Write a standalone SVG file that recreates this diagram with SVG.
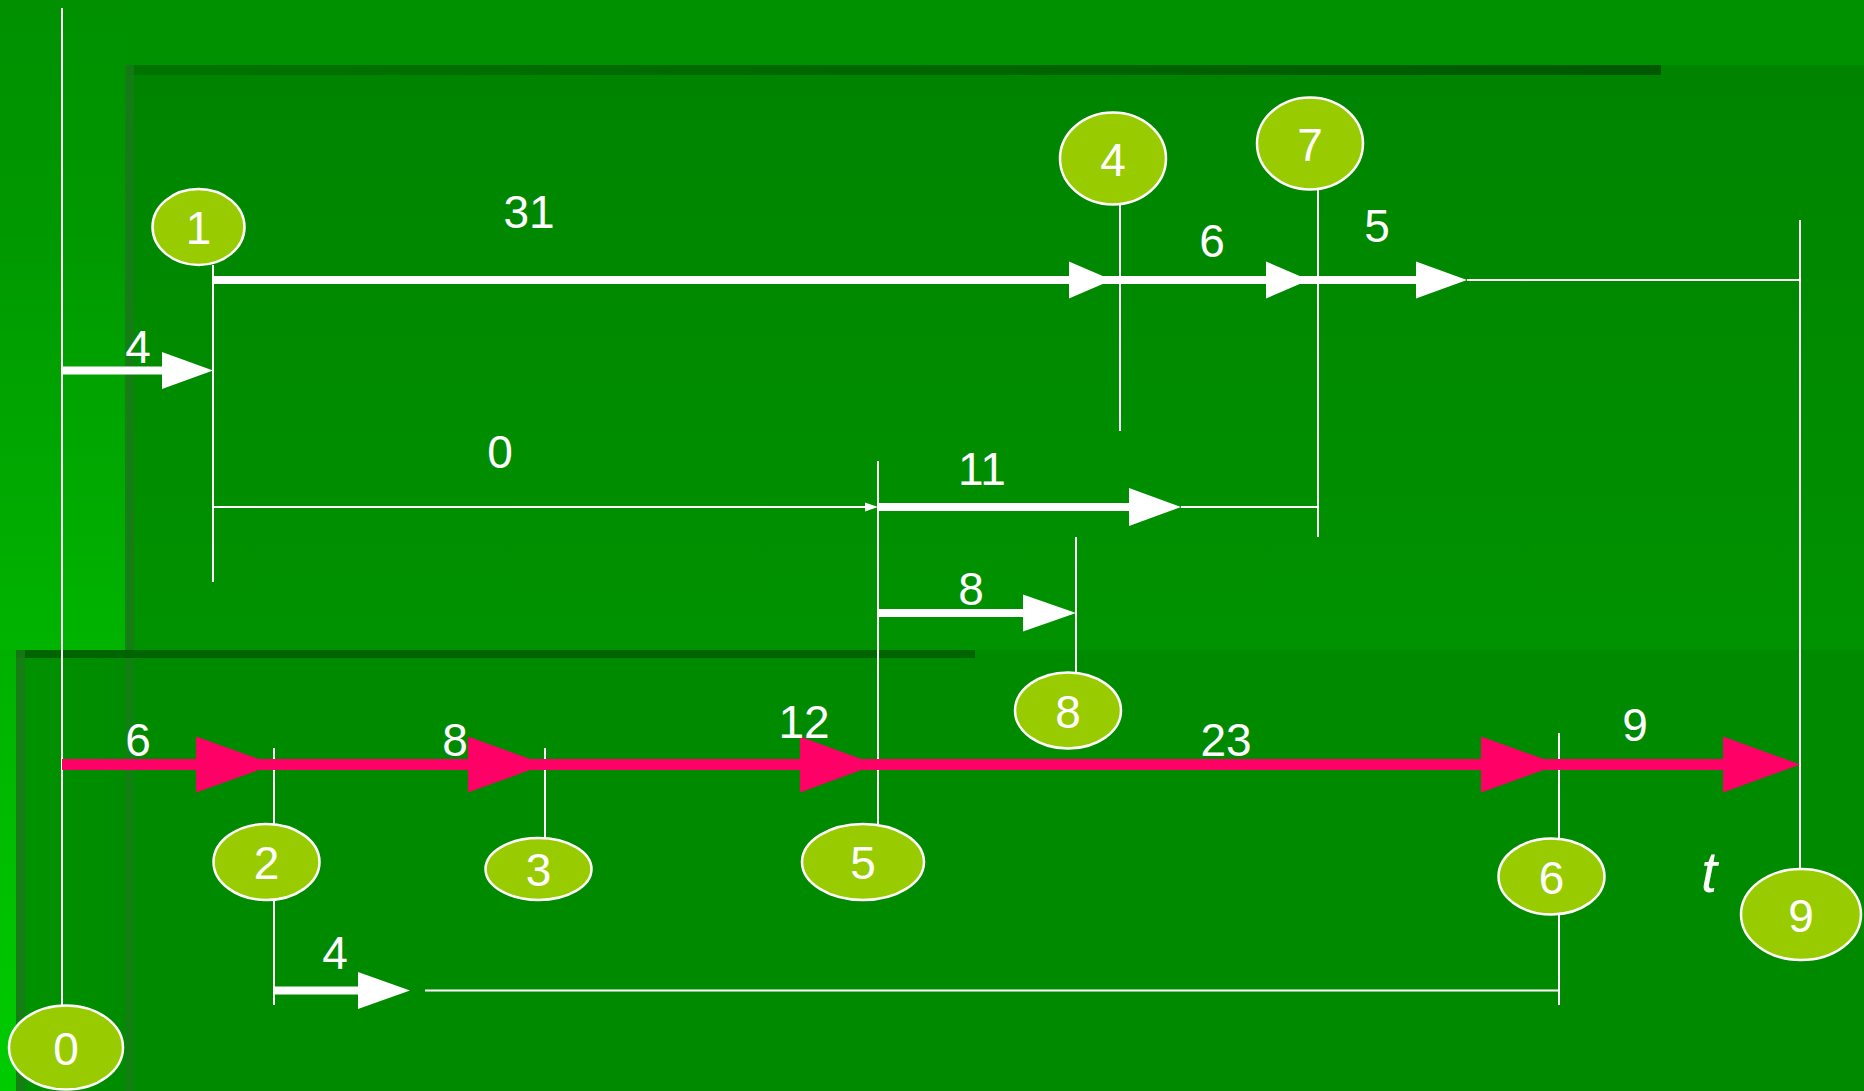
<svg xmlns="http://www.w3.org/2000/svg" width="1864" height="1091" viewBox="0 0 1864 1091">
<defs>
<linearGradient id="leftg" x1="0" y1="0" x2="0" y2="1">
<stop offset="0" stop-color="#009000"/>
<stop offset="0.35" stop-color="#009800"/>
<stop offset="1" stop-color="#00b400"/>
</linearGradient>
<linearGradient id="edgeg" x1="0" y1="0" x2="0" y2="1">
<stop offset="0" stop-color="#00b000"/>
<stop offset="1" stop-color="#00cc00"/>
</linearGradient>
<linearGradient id="lowg" x1="0" y1="0" x2="1" y2="0">
<stop offset="0" stop-color="#009200"/>
<stop offset="0.07" stop-color="#008a00"/>
<stop offset="1" stop-color="#008a00"/>
</linearGradient>
<linearGradient id="upg" x1="0" y1="0" x2="0" y2="1">
<stop offset="0" stop-color="#008400"/>
<stop offset="1" stop-color="#009200"/>
</linearGradient>
<linearGradient id="barg" x1="0" y1="0" x2="1" y2="0">
<stop offset="0" stop-color="#007400"/>
<stop offset="1" stop-color="#005800"/>
</linearGradient>
<style>
.thin{stroke:#fff;stroke-width:2;fill:none}
.thick{stroke:#fff;stroke-width:8;fill:none}
.red{stroke:#ff0066;stroke-width:11;fill:none}
.wh{fill:#fff}
.rh{fill:#ff0066}
.node ellipse{fill:#99cc00;stroke:#fff;stroke-width:2.5}
.lbl{font-family:"Liberation Sans",Arial,sans-serif;font-size:46px;fill:#fff;text-anchor:middle}
</style>
</defs>
<g id="background">
<rect x="0" y="0" width="1864" height="1091" fill="#009100"/>
<rect x="0" y="0" width="127" height="650" fill="url(#leftg)"/>
<rect x="0" y="650" width="16" height="441" fill="url(#edgeg)"/>
<rect x="127" y="65" width="1737" height="585" fill="url(#upg)"/>
<rect x="127" y="65" width="1534" height="10" fill="url(#barg)"/>
<rect x="125" y="65" width="9" height="585" fill="#187a18" opacity="0.85"/>
<rect x="16" y="650" width="1848" height="441" fill="url(#lowg)"/>
<rect x="16" y="650" width="959" height="8" fill="#006400"/>
<rect x="16" y="650" width="9" height="441" fill="#1a7a1a" opacity="0.8"/>
<rect x="125" y="658" width="9" height="433" fill="#1a7a1a" opacity="0.6"/>
</g>
<g id="connectors">
<line class="thin" x1="62" y1="8" x2="62" y2="1005"/>
<line class="thin" x1="213" y1="265" x2="213" y2="582"/>
<line class="thin" x1="1120" y1="204" x2="1120" y2="431"/>
<line class="thin" x1="1318" y1="189" x2="1318" y2="537"/>
<line class="thin" x1="1800" y1="220" x2="1800" y2="869"/>
<line class="thin" x1="878" y1="461" x2="878" y2="824"/>
<line class="thin" x1="1076" y1="537" x2="1076" y2="673"/>
<line class="thin" x1="274" y1="748" x2="274" y2="824"/>
<line class="thin" x1="274" y1="900" x2="274" y2="1005"/>
<line class="thin" x1="545" y1="748" x2="545" y2="838"/>
<line class="thin" x1="1559" y1="733" x2="1559" y2="838"/>
<line class="thin" x1="1559" y1="915" x2="1559" y2="1005"/>
<line class="thick" x1="62" y1="370.5" x2="164" y2="370.5"/>
<polygon class="wh" points="162,352 213,370.5 162,389"/>
<line class="thick" x1="213" y1="280" x2="1418" y2="280"/>
<polygon class="wh" points="1069,261.5 1112,280 1069,298.5"/>
<polygon class="wh" points="1266,261.5 1309,280 1266,298.5"/>
<polygon class="wh" points="1416,261.5 1467,280 1416,298.5"/>
<line class="thin" x1="1467" y1="280" x2="1800" y2="280"/>
<line class="thin" x1="213" y1="507" x2="866" y2="507"/>
<polygon class="wh" points="865,502.5 878,507 865,511.5"/>
<line class="thick" x1="878" y1="507" x2="1131" y2="507"/>
<polygon class="wh" points="1129,488 1181,507 1129,526"/>
<line class="thin" x1="1181" y1="507" x2="1318" y2="507"/>
<line class="thick" x1="878" y1="613" x2="1025" y2="613"/>
<polygon class="wh" points="1023,594.5 1076,613 1023,631.5"/>
<line class="thick" x1="274" y1="990.5" x2="360" y2="990.5"/>
<polygon class="wh" points="358,972 410,990.5 358,1009"/>
<line class="thin" x1="425" y1="990.5" x2="1559" y2="990.5"/>
<line class="red" x1="62" y1="764.5" x2="1725" y2="764.5"/>
<polygon class="rh" points="196,736.5 274,764.5 196,792.5"/>
<polygon class="rh" points="468,736.5 545,764.5 468,792.5"/>
<polygon class="rh" points="800,736.5 876,764.5 800,792.5"/>
<polygon class="rh" points="1481,736.5 1559,764.5 1481,792.5"/>
<polygon class="rh" points="1723,736.5 1800,764.5 1723,792.5"/>
</g>
<g id="edge-labels" class="lbl">
<text x="529" y="228">31</text>
<text x="138" y="363">4</text>
<text x="1212" y="257">6</text>
<text x="1377" y="242">5</text>
<text x="500" y="468">0</text>
<text x="982" y="485">11</text>
<text x="971" y="605">8</text>
<text x="138" y="756">6</text>
<text x="455" y="756">8</text>
<text x="804" y="738">12</text>
<text x="1226" y="756">23</text>
<text x="1635" y="741">9</text>
<text x="335" y="969">4</text>
<text x="1709" y="892" font-style="italic" font-size="58">t</text>
</g>
<g id="node0" class="node"><ellipse cx="66" cy="1047.5" rx="57" ry="42"/><text class="lbl" x="66" y="1065">0</text></g>
<g id="node1" class="node"><ellipse cx="198.5" cy="227" rx="46" ry="38"/><text class="lbl" x="198.5" y="244">1</text></g>
<g id="node2" class="node"><ellipse cx="266.5" cy="862" rx="53" ry="38"/><text class="lbl" x="266.5" y="879">2</text></g>
<g id="node3" class="node"><ellipse cx="538.5" cy="869" rx="53" ry="31"/><text class="lbl" x="538.5" y="886">3</text></g>
<g id="node4" class="node"><ellipse cx="1113" cy="158.5" rx="53" ry="46"/><text class="lbl" x="1113" y="176">4</text></g>
<g id="node5" class="node"><ellipse cx="863" cy="862" rx="61" ry="38"/><text class="lbl" x="863" y="879">5</text></g>
<g id="node6" class="node"><ellipse cx="1551.5" cy="876.5" rx="53" ry="38"/><text class="lbl" x="1551.5" y="894">6</text></g>
<g id="node7" class="node"><ellipse cx="1310" cy="143.5" rx="53" ry="46"/><text class="lbl" x="1310" y="161">7</text></g>
<g id="node8" class="node"><ellipse cx="1068" cy="710.5" rx="53" ry="38"/><text class="lbl" x="1068" y="728">8</text></g>
<g id="node9" class="node"><ellipse cx="1801" cy="914.5" rx="60" ry="45.5"/><text class="lbl" x="1801" y="932">9</text></g>
</svg>
